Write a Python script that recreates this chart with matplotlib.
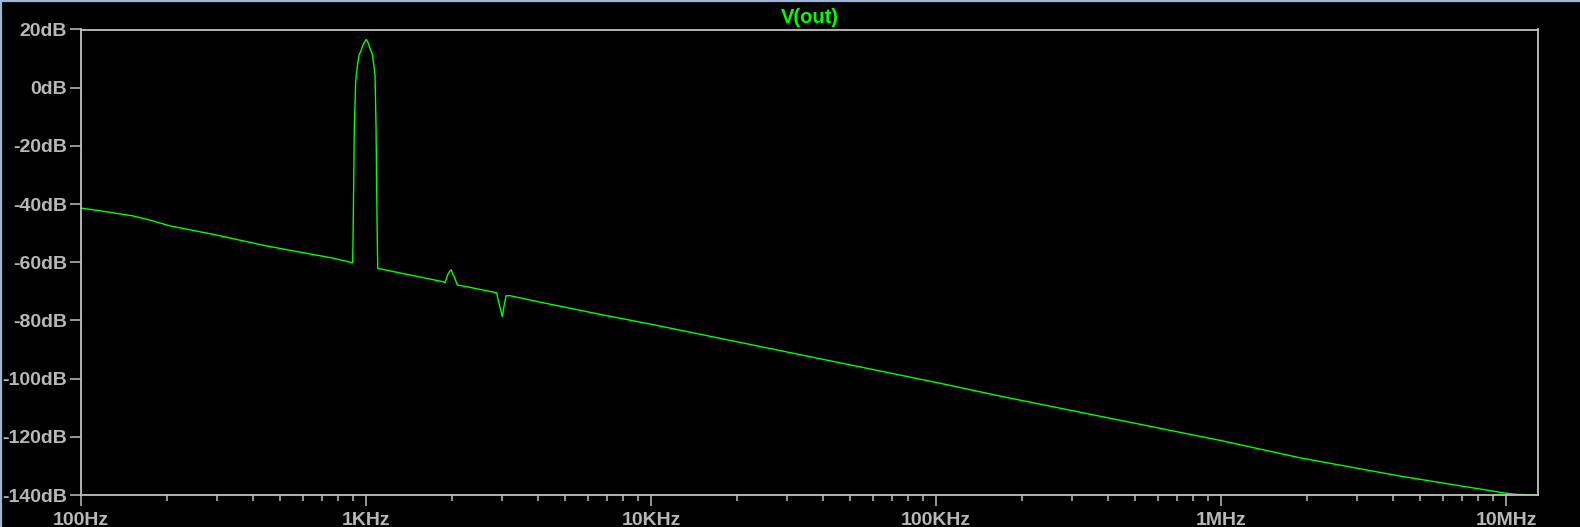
import matplotlib
matplotlib.use("Agg")
import matplotlib.pyplot as plt
from matplotlib.lines import Line2D
from matplotlib.ticker import FixedLocator, LogLocator, NullFormatter

# V(out) magnitude
freq_hz = [
    100, 116.6, 152.6, 174.6, 205, 291, 448, 767, 898,
    902.3, 909.6, 920.1, 927.6, 935.1, 944.9, 958, 970.5, 986.3, 1002.5,
    1018.8, 1035.4, 1052.3, 1064.2, 1075.5, 1084.2, 1093, 1099.2,
    1867, 1893, 1945, 1987, 2041, 2091, 2256,
    2874, 2912, 2969, 3008, 3050, 3100, 3201, 4078,
    6622, 10e3, 100e3, 167.7e3, 1e6, 1.89e6, 4.25e6, 10e6, 10.93e6, 12.94e6,
]
vout_db = [
    -41.4, -42.3, -44.1, -45.5, -47.5, -50.4, -54.4, -58.6, -60.2,
    -45.1, -14.2, 2.4, 5.5, 8.4, 11.2, 12.4, 14.1, 15.6, 16.6,
    15.3, 13.2, 11.5, 8.0, 4.4, -13.4, -45.7, -62.1,
    -66.7, -67.0, -63.8, -62.6, -65.1, -67.8, -68.4,
    -70.5, -73.3, -76.4, -78.7, -75.0, -71.5, -71.5, -73.7,
    -77.9, -81.3, -101.3, -106.0, -121.3, -127.2, -133.5, -139.4, -139.8, -140.0,
]

x_ticks = [1e2, 1e3, 1e4, 1e5, 1e6, 1e7]
x_labels = ["100Hz", "1KHz", "10KHz", "100KHz", "1MHz", "10MHz"]
y_ticks = [20, 0, -20, -40, -60, -80, -100, -120, -140]
y_labels = ["20dB", "0dB", "-20dB", "-40dB", "-60dB", "-80dB", "-100dB", "-120dB", "-140dB"]

FRAME = "#C0C0C0"
TEXT = "#B8B8B8"
TRACE = "#00FF00"

fig = plt.figure(figsize=(15.8, 5.27), dpi=100, facecolor="black")
ax = fig.add_axes([81 / 1580, 32 / 527, 1457 / 1580, 465.5 / 527])
ax.set_facecolor("black")

ax.plot(freq_hz, vout_db, color=TRACE, linewidth=1.0, clip_on=True)

ax.set_xscale("log")
ax.set_xlim(100, 12.94e6)
ax.set_ylim(-140, 20)

ax.xaxis.set_major_locator(FixedLocator(x_ticks))
ax.set_xticklabels(x_labels)
ax.xaxis.set_minor_locator(LogLocator(base=10, subs=range(2, 10), numticks=20))
ax.xaxis.set_minor_formatter(NullFormatter())
ax.set_yticks(y_ticks)
ax.set_yticklabels(y_labels)

for spine in ax.spines.values():
    spine.set_color(FRAME)
    spine.set_linewidth(1.3)

font = dict(family="Liberation Sans", weight="bold", size=14)
ax.tick_params(axis="both", which="major", direction="out", colors=FRAME,
               length=8, width=1.1, labelcolor=TEXT)
ax.tick_params(axis="x", which="minor", direction="out", colors=FRAME,
               length=4, width=1.1)
ax.tick_params(axis="x", which="major", pad=4)
ax.tick_params(axis="y", which="major", pad=2)
for lab in ax.get_xticklabels() + ax.get_yticklabels():
    lab.set_fontfamily(font["family"])
    lab.set_fontweight(font["weight"])
    lab.set_fontsize(font["size"])

ax.set_title("V(out)", color=TRACE, fontfamily="Liberation Sans",
             fontweight="bold", fontsize=14.5, pad=5)

# thin window border on left and top edges
fig.add_artist(Line2D([0.0008, 0.0008], [0, 1], transform=fig.transFigure,
                      color="#9DB4D4", linewidth=1.6))
fig.add_artist(Line2D([0, 1], [0.998, 0.998], transform=fig.transFigure,
                      color="#9DB4D4", linewidth=1.6))

fig.savefig("out.png", dpi=100, facecolor="black")
